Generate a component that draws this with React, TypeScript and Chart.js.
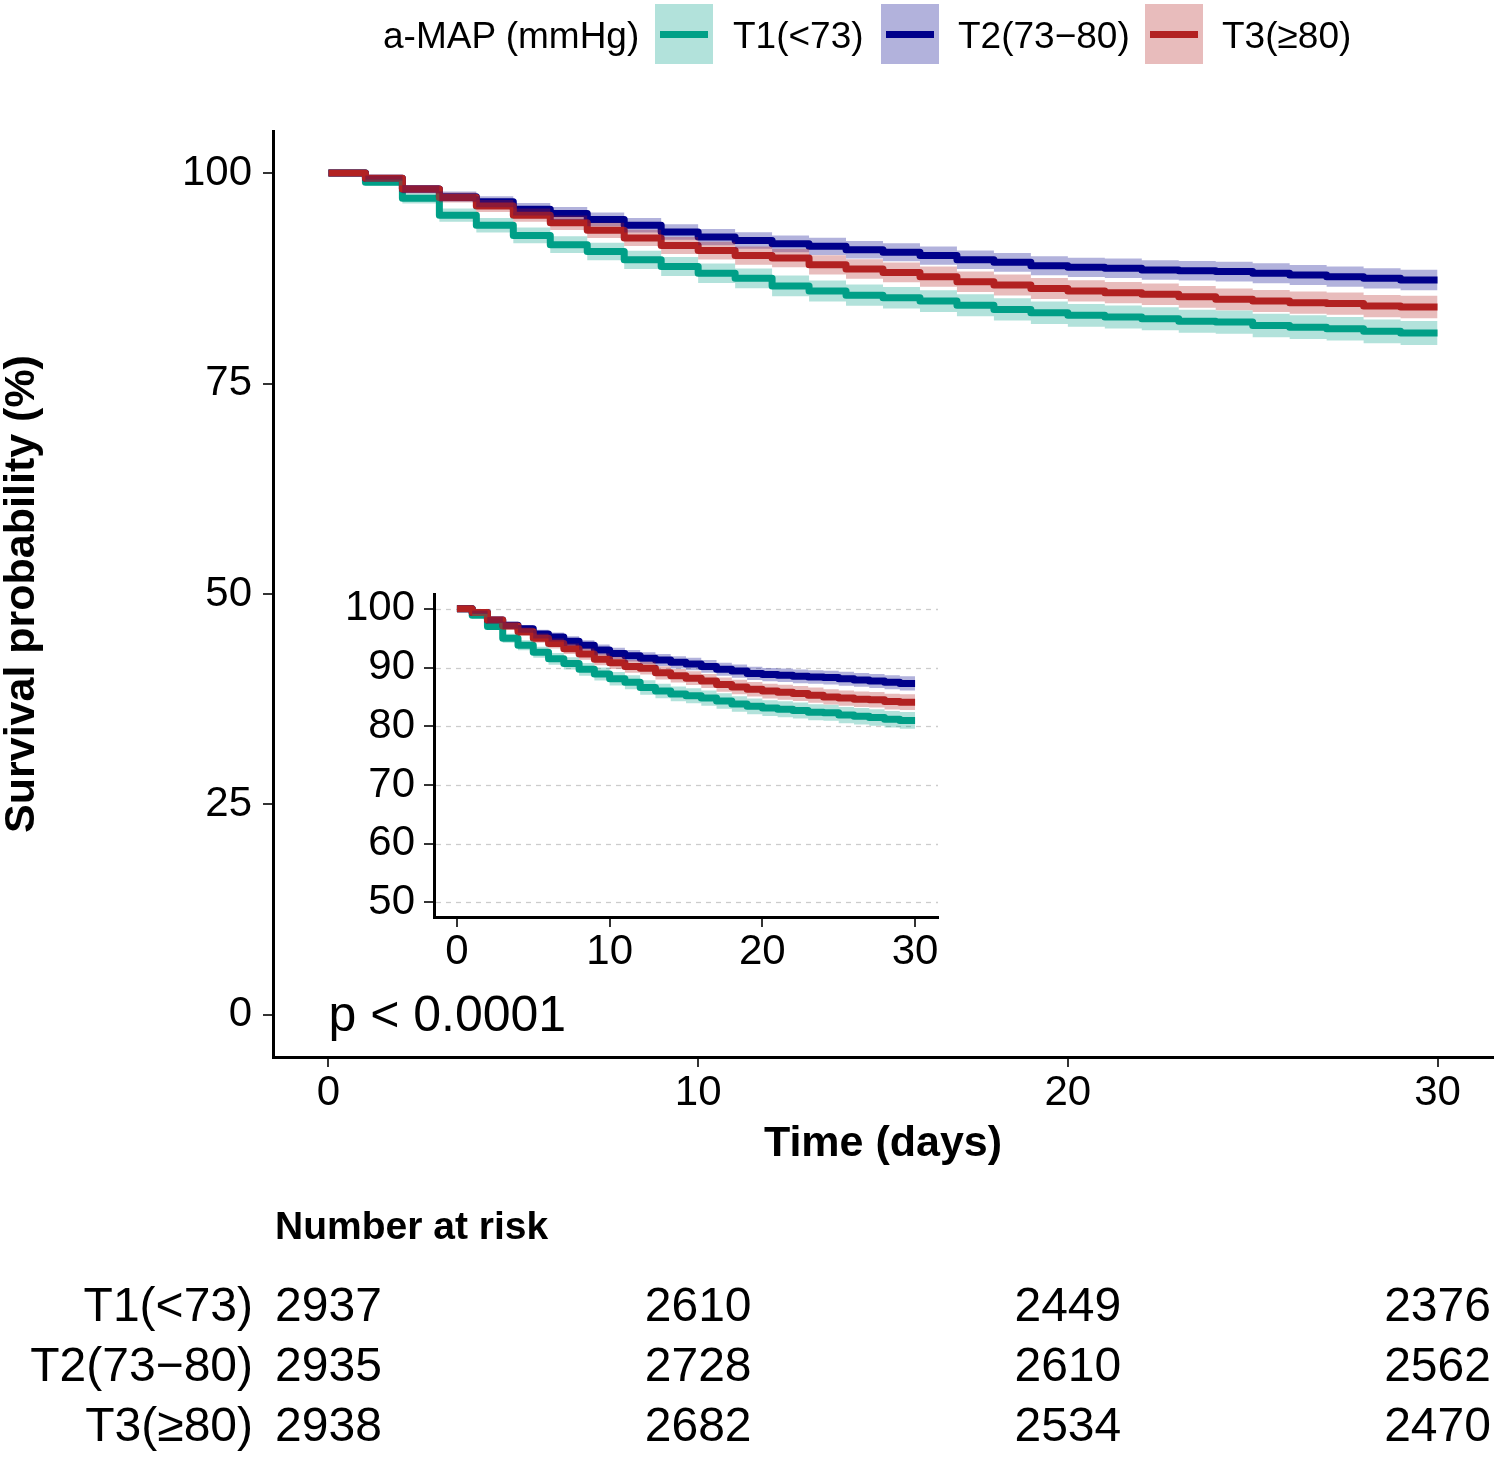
import React, { useEffect, useRef } from "react";
import { Chart, registerables } from "chart.js";

Chart.register(...registerables);

const FONT = "'Liberation Sans', Arial, Helvetica, sans-serif";

// ---------------- data ----------------
const seriesNames = ["T1(<73)", "T2(73\u221280)", "T3(\u226580)"];
const legendTitle = "a-MAP (mmHg)";
const pValueText = "p < 0.0001";

const timeDays = [0, 1, 2, 3, 4, 5, 6, 7, 8, 9, 10, 11, 12, 13, 14, 15, 16, 17, 18, 19, 20, 21, 22, 23, 24, 25, 26, 27, 28, 29, 30];

const t1Surv = [100, 98.9, 97.0, 95.0, 93.8, 92.6, 91.5, 90.7, 89.7, 88.9, 88.1, 87.5, 86.6, 86.0, 85.5, 85.2, 84.8, 84.3, 83.8, 83.4, 83.1, 82.9, 82.7, 82.4, 82.3, 81.9, 81.7, 81.5, 81.2, 81.0, 81.0];
const t2Surv = [100, 99.4, 98.1, 97.2, 96.6, 95.7, 95.2, 94.5, 93.8, 93.0, 92.4, 92.0, 91.6, 91.3, 90.9, 90.6, 90.2, 89.7, 89.4, 89.0, 88.8, 88.7, 88.5, 88.4, 88.3, 88.1, 87.9, 87.7, 87.5, 87.3, 87.3];
const t3Surv = [100, 99.4, 98.1, 97.1, 96.1, 95.0, 94.1, 93.2, 92.3, 91.4, 90.8, 90.2, 89.9, 89.1, 88.6, 88.2, 87.7, 87.1, 86.7, 86.3, 86.0, 85.8, 85.6, 85.3, 85.0, 84.8, 84.6, 84.5, 84.2, 84.1, 84.1];

// half-width of the 95% confidence band (percentage points)
const t1Ci = [0, 0.38, 0.62, 0.78, 0.86, 0.94, 1.0, 1.04, 1.08, 1.12, 1.16, 1.18, 1.22, 1.24, 1.26, 1.28, 1.29, 1.31, 1.32, 1.34, 1.35, 1.36, 1.36, 1.37, 1.38, 1.39, 1.4, 1.4, 1.41, 1.42, 1.42];
const t2Ci = [0, 0.28, 0.49, 0.6, 0.66, 0.74, 0.77, 0.82, 0.87, 0.92, 0.96, 0.98, 1.0, 1.02, 1.04, 1.06, 1.08, 1.1, 1.12, 1.13, 1.14, 1.15, 1.16, 1.16, 1.17, 1.18, 1.19, 1.2, 1.21, 1.22, 1.22];
const t3Ci = [0, 0.28, 0.49, 0.6, 0.71, 0.79, 0.85, 0.9, 0.96, 1.01, 1.05, 1.08, 1.1, 1.14, 1.16, 1.18, 1.2, 1.22, 1.24, 1.25, 1.26, 1.27, 1.28, 1.29, 1.3, 1.31, 1.32, 1.32, 1.33, 1.34, 1.34];

const riskDays = [0, 10, 20, 30];
const t1Risk = [2937, 2610, 2449, 2376];
const t2Risk = [2935, 2728, 2610, 2562];
const t3Risk = [2938, 2682, 2534, 2470];

const mainXTicks = [0, 10, 20, 30];
const mainYTicks = [0, 25, 50, 75, 100];
const insetYTicks = [50, 60, 70, 80, 90, 100];

const lineColors = ["#00A087", "#00008B", "#B22222"];
const bandColors = ["rgba(0,160,135,0.3)", "rgba(0,0,139,0.3)", "rgba(178,34,34,0.3)"];

const survSeries = [t1Surv, t2Surv, t3Surv];
const ciSeries = [t1Ci, t2Ci, t3Ci];
const riskSeries = [t1Risk, t2Risk, t3Risk];

// ---------------- helpers ----------------
function pts(vals: number[]) {
  return timeDays.map((t, i) => ({ x: t, y: vals[i] }));
}

function buildDatasets(lineWidth: number) {
  const ds: any[] = [];
  survSeries.forEach((s, i) => {
    ds.push({
      label: seriesNames[i],
      data: pts(s),
      borderColor: lineColors[i],
      borderWidth: lineWidth,
      stepped: "before",
      pointRadius: 0,
      fill: false,
      borderJoinStyle: "round",
      borderCapStyle: "butt",
      order: 6 - i,
    });
  });
  survSeries.forEach((s, i) => {
    const ci = ciSeries[i];
    ds.push({
      label: seriesNames[i] + " upper",
      data: pts(s.map((v, j) => v + ci[j])),
      borderColor: "transparent",
      borderWidth: 0,
      stepped: "before",
      pointRadius: 0,
      fill: false,
      order: 3 - i,
    });
    ds.push({
      label: seriesNames[i] + " lower",
      data: pts(s.map((v, j) => v - ci[j])),
      borderColor: "transparent",
      borderWidth: 0,
      stepped: "before",
      pointRadius: 0,
      fill: "-1",
      backgroundColor: bandColors[i],
      order: 3 - i,
    });
  });
  return ds;
}

const tickFont = { family: FONT, size: 42 };

// ---------------- components ----------------
function MainChart() {
  const ref = useRef<HTMLCanvasElement | null>(null);
  useEffect(() => {
    if (!ref.current) return;
    const pPlugin = {
      id: "pval",
      afterDraw(chart: any) {
        const { ctx, scales } = chart;
        ctx.save();
        ctx.font = `50px ${FONT}`;
        ctx.fillStyle = "#000";
        ctx.textAlign = "left";
        ctx.textBaseline = "middle";
        ctx.fillText(pValueText, scales.x.getPixelForValue(0), scales.y.getPixelForValue(0) + 2);
        ctx.restore();
      },
    };
    const chart = new Chart(ref.current, {
      type: "line",
      data: { datasets: buildDatasets(7) },
      options: {
        animation: false,
        responsive: false,
        devicePixelRatio: 1,
        layout: { padding: { top: 131, right: 6, left: 0, bottom: 0 } },
        plugins: { legend: { display: false }, tooltip: { enabled: false } },
        scales: {
          x: {
            type: "linear",
            min: -1.5,
            max: 31.5,
            afterBuildTicks: (s: any) => {
              s.ticks = mainXTicks.map((v) => ({ value: v }));
            },
            afterFit: (s: any) => {
              s.height = 123;
            },
            grid: { drawOnChartArea: false, drawTicks: true, tickLength: 10, color: "#333333", lineWidth: 2 },
            border: { display: true, color: "#000", width: 3 },
            ticks: { font: tickFont, color: "#000", padding: 1, maxRotation: 0 },
            title: {
              display: true,
              text: "Time (days)",
              color: "#000",
              font: { family: FONT, size: 43, weight: "bold", lineHeight: 1 },
              padding: { top: 0, bottom: 14 },
            },
          },
          y: {
            type: "linear",
            min: -5,
            max: 105,
            afterBuildTicks: (s: any) => {
              s.ticks = mainYTicks.map((v) => ({ value: v }));
            },
            afterFit: (s: any) => {
              s.width = 273;
            },
            grid: { drawOnChartArea: false, drawTicks: true, tickLength: 10, color: "#333333", lineWidth: 2 },
            border: { display: true, color: "#000", width: 3 },
            ticks: { font: tickFont, color: "#000", padding: 11 },
            title: {
              display: true,
              text: "Survival probability (%)",
              color: "#000",
              font: { family: FONT, size: 43, weight: "bold", lineHeight: 1 },
              padding: { top: 1, bottom: 0 },
            },
          },
        },
      },
      plugins: [pPlugin],
    } as any);
    return () => chart.destroy();
  }, []);
  return (
    <canvas
      ref={ref}
      width={1499}
      height={1180}
      style={{ position: "absolute", left: 0, top: 0, width: 1499, height: 1180 }}
    />
  );
}

function InsetChart() {
  const ref = useRef<HTMLCanvasElement | null>(null);
  useEffect(() => {
    if (!ref.current) return;
    // dashed light-grey guide lines at the y ticks, drawn from the library's y scale
    const dashPlugin = {
      id: "dashGrid",
      beforeDatasetsDraw(chart: any) {
        const { ctx, chartArea, scales } = chart;
        ctx.save();
        ctx.strokeStyle = "#cccccc";
        ctx.lineWidth = 1.3;
        ctx.setLineDash([5, 5]);
        insetYTicks.forEach((v) => {
          const y = Math.round(scales.y.getPixelForValue(v)) + 0.5;
          ctx.beginPath();
          ctx.moveTo(chartArea.left + 2, y);
          ctx.lineTo(chartArea.right, y);
          ctx.stroke();
        });
        ctx.restore();
      },
    };
    const chart = new Chart(ref.current, {
      type: "line",
      data: { datasets: buildDatasets(7) },
      options: {
        animation: false,
        responsive: false,
        devicePixelRatio: 1,
        layout: { padding: { top: 33, right: 22, left: 0, bottom: 0 } },
        plugins: { legend: { display: false }, tooltip: { enabled: false } },
        scales: {
          x: {
            type: "linear",
            min: -1.5,
            max: 31.5,
            afterBuildTicks: (s: any) => {
              s.ticks = mainXTicks.map((v) => ({ value: v }));
            },
            afterFit: (s: any) => {
              s.height = 73;
            },
            grid: { drawOnChartArea: false, drawTicks: true, tickLength: 10, color: "#333333", lineWidth: 2 },
            border: { display: true, color: "#000", width: 3 },
            ticks: { font: tickFont, color: "#000", padding: 0, maxRotation: 0 },
          },
          y: {
            type: "linear",
            min: 47.5,
            max: 102.5,
            afterBuildTicks: (s: any) => {
              s.ticks = insetYTicks.map((v) => ({ value: v }));
            },
            afterFit: (s: any) => {
              s.width = 134;
            },
            grid: { drawOnChartArea: false, drawTicks: true, tickLength: 10, color: "#333333", lineWidth: 2 },
            border: { display: true, color: "#000", width: 3 },
            ticks: { font: tickFont, color: "#000", padding: 9 },
          },
        },
      },
      plugins: [dashPlugin],
    } as any);
    return () => chart.destroy();
  }, []);
  return (
    <canvas
      ref={ref}
      width={660}
      height={430}
      style={{ position: "absolute", left: 300, top: 560, width: 660, height: 430 }}
    />
  );
}

function RiskTable() {
  const ref = useRef<HTMLCanvasElement | null>(null);
  useEffect(() => {
    if (!ref.current) return;
    const textPlugin = {
      id: "riskText",
      afterDatasetsDraw(chart: any) {
        const { ctx, chartArea } = chart;
        ctx.save();
        ctx.fillStyle = "#000";
        ctx.font = `bold 39px ${FONT}`;
        ctx.textAlign = "left";
        ctx.textBaseline = "middle";
        ctx.fillText("Number at risk", chartArea.left + 2, 48);
        ctx.font = `48px ${FONT}`;
        ctx.textAlign = "center";
        chart.data.datasets.forEach((_: any, i: number) => {
          const meta = chart.getDatasetMeta(i);
          meta.data.forEach((el: any, j: number) => {
            ctx.fillText(String(riskSeries[i][j]), el.x, el.y);
          });
        });
        ctx.restore();
      },
    };
    const chart = new Chart(ref.current, {
      type: "scatter",
      data: {
        datasets: riskSeries.map((r, i) => ({
          label: seriesNames[i],
          data: riskDays.map((d) => ({ x: d, y: seriesNames[i] })),
          pointRadius: 0,
          showLine: false,
        })),
      },
      options: {
        animation: false,
        responsive: false,
        devicePixelRatio: 1,
        layout: { padding: { top: 98, right: 6, left: 0, bottom: 0 } },
        plugins: { legend: { display: false }, tooltip: { enabled: false } },
        scales: {
          x: {
            type: "linear",
            min: -1.5,
            max: 31.5,
            display: false,
            afterFit: (s: any) => {
              s.paddingLeft = 0;
              s.paddingRight = 0;
            },
          },
          y: {
            type: "category",
            labels: seriesNames,
            offset: true,
            afterFit: (s: any) => {
              s.width = 273;
              s.paddingTop = 0;
              s.paddingBottom = 0;
            },
            grid: { display: false, drawTicks: false },
            border: { display: false },
            ticks: {
              font: { family: FONT, size: 48 },
              color: "#000",
              padding: 20,
              autoSkip: false,
            },
          },
        },
      },
      plugins: [textPlugin],
    } as any);
    return () => chart.destroy();
  }, []);
  return (
    <canvas
      ref={ref}
      width={1499}
      height={278}
      style={{ position: "absolute", left: 0, top: 1180, width: 1499, height: 278 }}
    />
  );
}

function Legend() {
  const keyLefts = [655, 881, 1145];
  const labelLefts = [733, 958, 1222];
  const txt: React.CSSProperties = {
    position: "absolute",
    top: 13,
    fontFamily: FONT,
    fontSize: 37,
    lineHeight: "46px",
    color: "#000",
    whiteSpace: "nowrap",
  };
  return (
    <div style={{ position: "absolute", left: 0, top: 0, width: 1499, height: 70 }}>
      <div style={{ ...txt, left: 383 }}>{legendTitle}</div>
      {seriesNames.map((n, i) => (
        <React.Fragment key={n}>
          <div
            style={{
              position: "absolute",
              left: keyLefts[i],
              top: 4,
              width: 58,
              height: 60,
              background: bandColors[i],
            }}
          >
            <div
              style={{
                position: "absolute",
                left: 5,
                right: 5,
                top: 27,
                height: 7,
                background: lineColors[i],
              }}
            />
          </div>
          <div style={{ ...txt, left: labelLefts[i] }}>{n}</div>
        </React.Fragment>
      ))}
    </div>
  );
}

export default function App() {
  return (
    <div
      style={{
        position: "absolute",
        left: 0,
        top: 0,
        width: 1499,
        height: 1458,
        background: "#fff",
        overflow: "hidden",
      }}
    >
      <MainChart />
      <InsetChart />
      <RiskTable />
      <Legend />
    </div>
  );
}
